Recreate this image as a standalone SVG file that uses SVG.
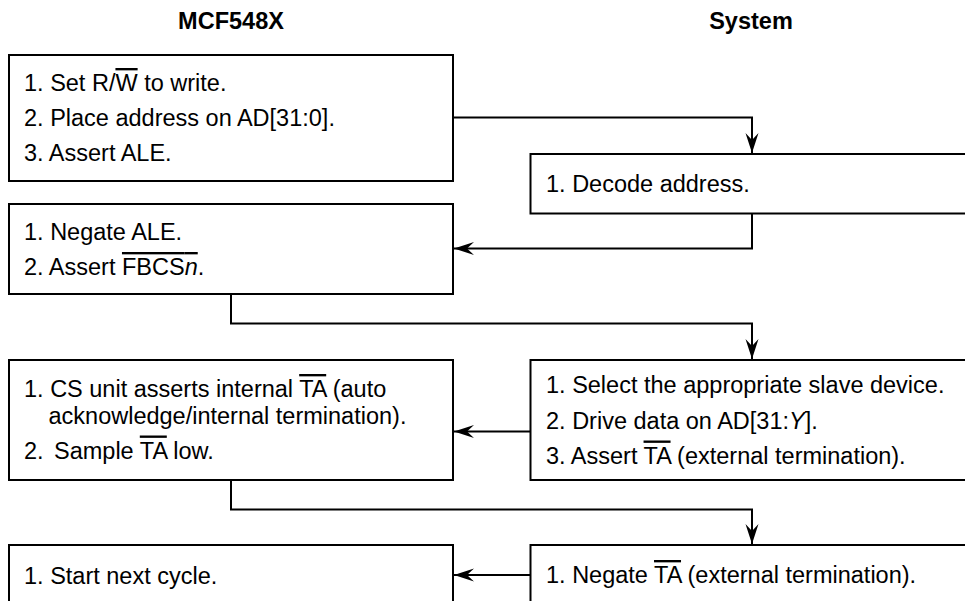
<svg xmlns="http://www.w3.org/2000/svg" width="965" height="601" viewBox="0 0 965 601">
<style>
text{font-family:"Liberation Sans",Arial,Helvetica,sans-serif;font-size:23.5px;fill:#000}
.title{font-weight:bold;text-anchor:middle}
.box{fill:#fff;stroke:#000;stroke-width:2}
.conn{fill:none;stroke:#000;stroke-width:2}
.ob{text-decoration:overline}
.it{font-style:italic}
</style>
<defs>
<marker id="arr" markerUnits="userSpaceOnUse" viewBox="-21 -8 22 16" markerWidth="22" markerHeight="16" refX="0" refY="0" orient="auto">
<path d="M0,0 L-20,-6.5 L-13,0 L-20,6.5 Z" fill="#000"/>
</marker>
</defs>
<rect width="965" height="601" fill="#fff"/>
<text class="title" x="231" y="29">MCF548X</text>
<text class="title" x="751" y="29">System</text>
<g id="connectors">
<path class="conn" d="M453,117.5 H752 V153" marker-end="url(#arr)"/>
<path class="conn" d="M752,213.5 V248.5 H454" marker-end="url(#arr)"/>
<path class="conn" d="M231,294 V323.5 H752 V359" marker-end="url(#arr)"/>
<path class="conn" d="M530.5,431.5 H454" marker-end="url(#arr)"/>
<path class="conn" d="M231,480 V509.5 H752 V544" marker-end="url(#arr)"/>
<path class="conn" d="M530.5,575 H454" marker-end="url(#arr)"/>
</g>
<g id="n1">
<rect class="box" x="9" y="55" width="444" height="126"/>
<text x="24" y="91">1. Set R/<tspan class="ob">W</tspan> to write.</text>
<text x="24" y="126">2. Place address on AD[31:0].</text>
<text x="24" y="161">3. Assert ALE.</text>
</g>
<g id="n2">
<rect class="box" x="530.5" y="154" width="445" height="59.5"/>
<text x="546" y="192">1. Decode address.</text>
</g>
<g id="n3">
<rect class="box" x="9" y="204" width="444" height="90"/>
<text x="24" y="240">1. Negate ALE.</text>
<text x="24" y="275">2. Assert <tspan class="ob">FBCS<tspan class="it">n</tspan></tspan>.</text>
</g>
<g id="n4">
<rect class="box" x="9" y="360" width="444" height="120"/>
<text x="24" y="397">1. CS unit asserts internal <tspan class="ob">TA</tspan> (auto</text>
<text x="48.5" y="423.5">acknowledge/internal termination).</text>
<text x="24" y="458.5">2. <tspan x="54">Sample </tspan><tspan class="ob">TA</tspan> low.</text>
</g>
<g id="n5">
<rect class="box" x="530.5" y="360" width="445" height="120"/>
<text x="546" y="393">1. Select the appropriate slave device.</text>
<text x="546" y="428.5">2. Drive data on AD[31:<tspan class="it">Y</tspan>].</text>
<text x="546" y="463.5">3. Assert <tspan class="ob">TA</tspan> (external termination).</text>
</g>
<g id="n6">
<rect class="box" x="9" y="545" width="444" height="70"/>
<text x="24" y="583.5">1. Start next cycle.</text>
</g>
<g id="n7">
<rect class="box" x="530.5" y="545" width="445" height="70"/>
<text x="546" y="583">1. Negate <tspan class="ob">TA</tspan> (external termination).</text>
</g>
</svg>
